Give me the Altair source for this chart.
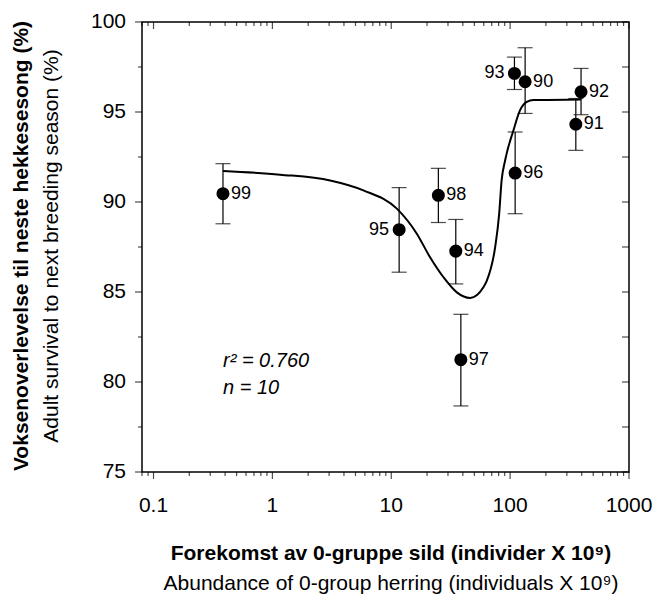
import altair as alt
import pandas as pd

# ---- data ----
years = ["99", "95", "98", "94", "97", "96", "93", "90", "92", "91"]
abundance = [0.384, 11.65, 24.9, 34.9, 38.5, 110.2, 108.7, 133.7, 395.0, 357.0]
survival = [90.46, 88.46, 90.37, 87.27, 81.24, 91.61, 97.14, 96.68, 96.12, 94.32]
err_low = [88.79, 86.10, 88.86, 85.45, 78.67, 89.35, 96.25, 94.92, 94.85, 92.87]
err_high = [92.13, 90.80, 91.87, 89.03, 83.76, 93.89, 98.05, 98.57, 97.42, 95.75]
label_side = ["right", "left", "right", "right", "right", "right", "left", "right", "right", "right"]

curve_x = [0.384, 1.16, 3.06, 5.83, 11.14, 16.4, 21.2, 27.5, 35.6, 46.1, 59.6, 63.7,
           74.8, 80.8, 84.8, 90.8, 106.7, 121.3, 138.1, 157.1, 395.0]
curve_y = [91.72, 91.52, 91.20, 90.65, 89.63, 88.24, 86.93, 85.82, 84.98, 84.67, 85.26, 85.63,
           87.49, 89.31, 91.20, 92.32, 93.99, 95.10, 95.56, 95.66, 95.70]

x_major = [0.1, 1, 10, 100, 1000]
x_labels = ["0.1", "1", "10", "100", "1000"]
x_minor = [0.08, 0.09] + [round(m * 10.0 ** e, 6) for e in (-1, 0, 1, 2) for m in range(2, 10)]
y_major = [75, 80, 85, 90, 95, 100]
y_labels = ["75", "80", "85", "90", "95", "100"]
y_minor = [77.5, 82.5, 87.5, 92.5, 97.5]

x_title_1 = "Forekomst av 0-gruppe sild (individer X 10⁹)"
x_title_2 = "Abundance of 0-group herring (individuals X 10⁹)"
y_title_1 = "Voksenoverlevelse til neste hekkesesong (%)"
y_title_2 = "Adult survival to next breeding season (%)"
stats_text = ["r² = 0.760", "n = 10"]

FONT = "Liberation Sans"
X_MIN, X_MAX = 0.08, 1000
Y_MIN, Y_MAX = 75, 100

df = pd.DataFrame({"year": years, "x": abundance, "y": survival,
                   "lo": err_low, "hi": err_high, "side": label_side})
caps = pd.DataFrame({"x": abundance + abundance, "v": err_low + err_high})
curve = pd.DataFrame({"x": curve_x, "y": curve_y})
xmaj_df = pd.DataFrame({"t": x_major, "lab": x_labels})
xmin_df = pd.DataFrame({"t": x_minor})
ymaj_df = pd.DataFrame({"t": y_major, "lab": y_labels})
ymin_df = pd.DataFrame({"t": y_minor})

xs = alt.Scale(type="log", domain=[X_MIN, X_MAX], nice=False)
ys = alt.Scale(domain=[Y_MIN, Y_MAX], nice=False, zero=False)


def X(field):
    return alt.X(field, scale=xs, axis=None)


def Y(field):
    return alt.Y(field, scale=ys, axis=None)


# error bars
rules = alt.Chart(df).mark_rule(color="black", strokeWidth=1.2).encode(
    x=X("x:Q"), y=Y("lo:Q"), y2="hi:Q")
cap_marks = alt.Chart(caps).mark_tick(orient="horizontal", size=15, thickness=1.2,
                                      color="black").encode(x=X("x:Q"), y=Y("v:Q"))


# axis ticks drawn from the tick arrays
def xticks(data, edge, length):
    return alt.Chart(data).mark_tick(orient="vertical", size=length, thickness=1.2,
                                     color="black", yOffset=length / 2).encode(
        x=X("t:Q"), y=alt.Y(datum=edge, scale=ys, axis=None))


def yticks(data, edge, length):
    return alt.Chart(data).mark_tick(orient="horizontal", size=length, thickness=1.2,
                                     color="black", xOffset=-length / 2).encode(
        x=alt.X(datum=edge, scale=xs, axis=None), y=Y("t:Q"))


tick_layers = [
    xticks(xmaj_df, Y_MIN, 7), xticks(xmin_df, Y_MIN, 4),
    xticks(xmaj_df, Y_MAX, 7), xticks(xmin_df, Y_MAX, 4),
    yticks(ymaj_df, X_MIN, 7), yticks(ymin_df, X_MIN, 4),
    yticks(ymaj_df, X_MAX, 7), yticks(ymin_df, X_MAX, 7),
]

# tick labels
x_tick_labels = alt.Chart(xmaj_df).mark_text(
    align="center", baseline="alphabetic", dy=40, font=FONT, fontSize=21, color="black").encode(
    x=X("t:Q"), y=alt.Y(datum=Y_MIN, scale=ys, axis=None), text="lab:N")
y_tick_labels = alt.Chart(ymaj_df).mark_text(
    align="right", baseline="middle", dx=-16, font=FONT, fontSize=21, color="black").encode(
    x=alt.X(datum=X_MIN, scale=xs, axis=None), y=Y("t:Q"), text="lab:N")

line = alt.Chart(curve).mark_line(color="black", strokeWidth=2, interpolate="monotone").encode(
    x=X("x:Q"), y=Y("y:Q"))
points = alt.Chart(df).mark_circle(size=170, color="black", opacity=1).encode(
    x=X("x:Q"), y=Y("y:Q"))
labels_r = alt.Chart(df).transform_filter("datum.side == 'right'").mark_text(
    align="left", baseline="middle", dx=8, font=FONT, fontSize=18, color="black").encode(
    x=X("x:Q"), y=Y("y:Q"), text="year:N")
labels_l = alt.Chart(df).transform_filter("datum.side == 'left'").mark_text(
    align="right", baseline="middle", dx=-10, font=FONT, fontSize=18, color="black").encode(
    x=X("x:Q"), y=Y("y:Q"), text="year:N")

stats_df = pd.DataFrame({"t": stats_text, "py": [345, 372]})
stats = alt.Chart(stats_df).mark_text(align="left", baseline="alphabetic", font=FONT,
                                      fontSize=20, fontStyle="italic", color="black").encode(
    x=alt.value(81), y=alt.Y("py:Q", scale=None, axis=None), text="t:N")

xt_df = pd.DataFrame({"t": [x_title_1, x_title_2], "py": [538, 568],
                      "w": ["bold", "normal"]})
xt_bold = alt.Chart(xt_df).transform_filter("datum.w == 'bold'").mark_text(
    align="center", baseline="alphabetic", font=FONT, fontSize=21, fontWeight="bold",
    color="black").encode(x=alt.value(249), y=alt.Y("py:Q", scale=None, axis=None), text="t:N")
xt_norm = alt.Chart(xt_df).transform_filter("datum.w == 'normal'").mark_text(
    align="center", baseline="alphabetic", font=FONT, fontSize=21, fontWeight="normal",
    color="black").encode(x=alt.value(249), y=alt.Y("py:Q", scale=None, axis=None), text="t:N")

yt_df = pd.DataFrame({"t": [y_title_1, y_title_2], "px": [-120, -90], "w": ["bold", "normal"]})
yt_bold = alt.Chart(yt_df).transform_filter("datum.w == 'bold'").mark_text(
    align="center", baseline="middle", angle=270, font=FONT, fontSize=21, fontWeight="bold",
    color="black").encode(x=alt.X("px:Q", scale=None, axis=None), y=alt.value(224), text="t:N")
yt_norm = alt.Chart(yt_df).transform_filter("datum.w == 'normal'").mark_text(
    align="center", baseline="middle", angle=270, font=FONT, fontSize=21, fontWeight="normal",
    color="black").encode(x=alt.X("px:Q", scale=None, axis=None), y=alt.value(224), text="t:N")

chart = alt.layer(
    rules, cap_marks, *tick_layers, x_tick_labels, y_tick_labels,
    line, points, labels_r, labels_l, stats,
    xt_bold, xt_norm, yt_bold, yt_norm,
).properties(
    width=487, height=450,
    autosize=alt.AutoSizeParams(type="none"),
    padding={"left": 142, "top": 22, "right": 24, "bottom": 136},
    background="white",
).configure_view(stroke="black", strokeWidth=1.5)

chart.save("out.html", embed_options={"renderer": "svg", "actions": False})
